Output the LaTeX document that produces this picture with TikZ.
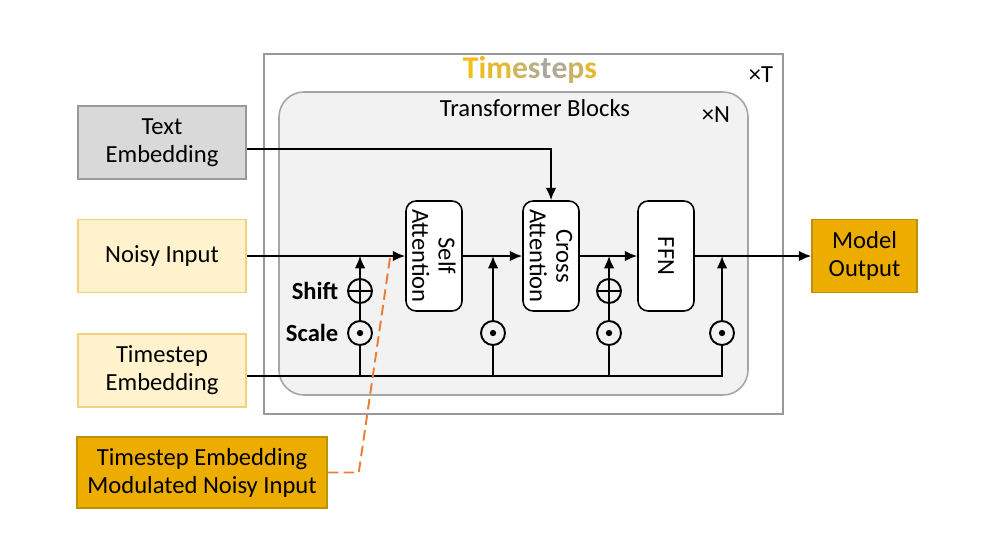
\documentclass[tikz,border=0pt]{standalone}
\usepackage{fontspec}
\setmainfont{Carlito}
\usepackage{tikz}
\usetikzlibrary{arrows.meta,positioning,calc}
\definecolor{boxgray}{RGB}{242,242,242}
\definecolor{embgray}{RGB}{217,217,217}
\definecolor{paleyellow}{RGB}{255,242,204}
\definecolor{paleedge}{RGB}{242,210,120}
\definecolor{gold}{RGB}{236,172,0}
\definecolor{goldedge}{RGB}{191,144,0}
\definecolor{dashorange}{RGB}{237,125,49}
\tikzset{
	flow/.style={line width=1.1pt,-{Latex[length=7pt,width=6pt]}},
	bus/.style={line width=1.1pt},
	inbox/.style={draw, line width=0.9pt, minimum width=3.36cm, minimum height=1.46cm, align=center, font=\fontsize{14}{16}\selectfont},
	block/.style={draw, line width=0.9pt, fill=white, rounded corners=0.2cm, rotate=-90, minimum width=2.2cm, minimum height=1.12cm, align=center, inner sep=1pt, font=\fontsize{14}{15}\selectfont},
	opdot/.style={circle, draw, line width=1.1pt, fill=boxgray, minimum size=0.48cm, inner sep=0pt,
		path picture={\fill[black] (path picture bounding box.center) circle (1.8pt);}},
	opplus/.style={circle, draw, line width=1.1pt, fill=boxgray, minimum size=0.48cm, inner sep=0pt,
		path picture={\draw[black, line width=1.1pt] (path picture bounding box.north) -- (path picture bounding box.south)
			(path picture bounding box.west) -- (path picture bounding box.east);}},
	lbl/.style={font=\fontsize{14}{16}\selectfont\bfseries}
}

\begin{document}
\begin{tikzpicture}[x=0.02cm, y=-0.02cm]
    \useasboundingbox (0,0) rectangle (990,534);

    % outer loop and transformer blocks
    \draw[gray!80, line width=0.9pt] (264,54) rectangle (783,414);
    \draw[gray!70, line width=0.9pt, fill=boxgray, rounded corners=0.5cm] (279,92) rectangle (748,395);
    \node[font=\fontsize{18}{20}\selectfont\bfseries] (ts) at (530,70) {\textcolor[RGB]{242,190,26}{T}\textcolor[RGB]{238,188,34}{i}\textcolor[RGB]{228,186,48}{m}\textcolor[RGB]{206,182,96}{e}\textcolor[RGB]{186,174,130}{s}\textcolor[RGB]{170,168,156}{t}\textcolor[RGB]{178,170,146}{e}\textcolor[RGB]{204,178,98}{p}\textcolor[RGB]{228,184,48}{s}};
    \node[font=\fontsize{14}{16}\selectfont] (xt) at (761,75) {×T};
    \node[font=\fontsize{14}{16}\selectfont] (tb) at (535,108) {Transformer Blocks};
    \node[font=\fontsize{14}{16}\selectfont] (xn) at (716,115) {×N};

    % inputs and outputs
    \node[inbox, fill=embgray, draw=gray!80] (tx) at (162,142.5) {Text\\Embedding};
    \node[inbox, fill=paleyellow, draw=paleedge] (ni) at (162,256) {Noisy Input};
    \node[inbox, fill=paleyellow, draw=paleedge] (te) at (162,370.5) {Timestep\\Embedding};
    \node[inbox, fill=gold, draw=goldedge, minimum width=5cm, minimum height=1.42cm] (mod) at (202,472.5) {Timestep Embedding\\Modulated Noisy Input};
    \node[inbox, fill=gold, draw=goldedge, minimum width=2.1cm] (out) at (864.5,256) {Model\\Output};

    % blocks (rotated: south is the left side, north the right side)
    \node[block] (sa) at (434,256) {Self\\Attention};
    \node[block] (ca) at (551,256) {Cross\\Attention};
    \node[block] (ffn) at (666,256) {FFN};

    % modulation
    \node[opdot] (m1) at (360,333) {};
    \node[opplus] (p1) at (360,291) {};
    \node[opdot] (m2) at (493,333) {};
    \node[opdot] (m3) at (609,333) {};
    \node[opplus] (p3) at (609,291) {};
    \node[opdot] (m4) at (722,333) {};
    \node[lbl, left=0.05cm of p1] (shift) {Shift};
    \node[lbl, left=0.05cm of m1] (scale) {Scale};

    \coordinate (j1) at (360,256);
    \coordinate (j2) at (493,256);
    \coordinate (j3) at (609,256);
    \coordinate (j4) at (722,256);
    \coordinate (tbus) at (722,376);
    \coordinate (mark) at (390,258);

    % main stream
    \draw[flow] (ni.east) -- (sa.south);
    \draw[flow] (sa.north) -- (ca.south);
    \draw[flow] (ca.north) -- (ffn.south);
    \draw[flow] (ffn.north) -- (out.west);
    \draw[flow] ([yshift=-0.13cm]tx.east) -| (ca.west);

    % timestep bus
    \draw[bus] (te.east |- tbus) -- (tbus) -- (m4);
    \draw[bus] (m1 |- tbus) -- (m1);
    \draw[bus] (m2 |- tbus) -- (m2);
    \draw[bus] (m3 |- tbus) -- (m3);
    \draw[bus] (m1) -- (p1);
    \draw[flow] (p1) -- (j1);
    \draw[flow] (m2) -- (j2);
    \draw[bus] (m3) -- (p3);
    \draw[flow] (p3) -- (j3);
    \draw[flow] (m4) -- (j4);

    \draw[dashorange, line width=1.1pt, dash pattern=on 6pt off 3pt] (mod.east) -- ++(31,0) -- (mark);
\end{tikzpicture}
\end{document}
